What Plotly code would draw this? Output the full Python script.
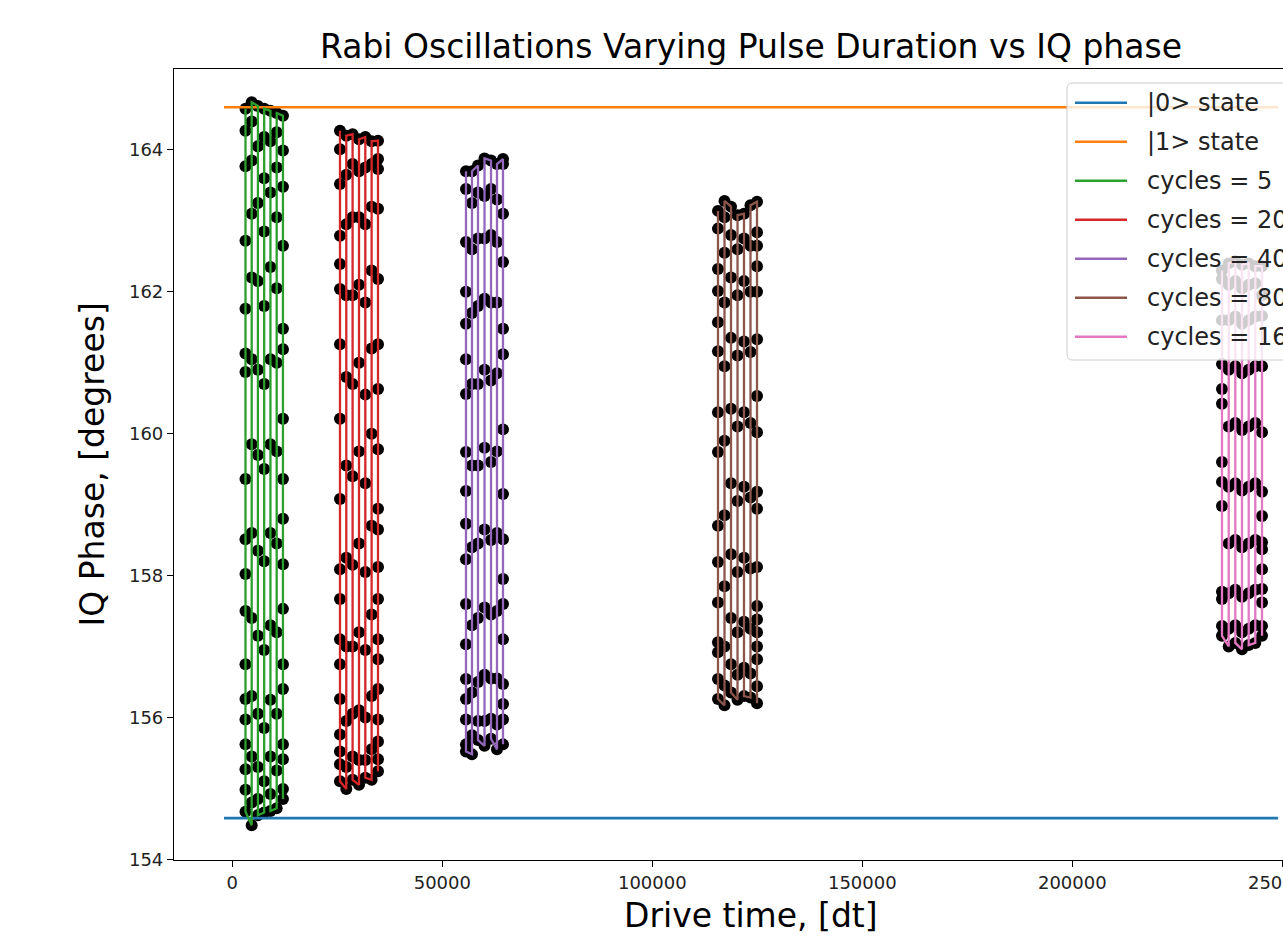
import plotly.graph_objects as go

# ---------------- data ----------------
state0_phase = 154.58
state1_phase = 164.60
state_line_x = [-1980, 249000]

cycle_labels = ["cycles = 5", "cycles = 20", "cycles = 40", "cycles = 80", "cycles = 160"]
cycle_colors = ["#2ca02c", "#d62728", "#9467bd", "#8c564b", "#e377c2"]

times_c5 = [3140, 4620, 6100, 7590, 9080, 10570, 12060]
phase_c5 = [
    [164.58, 164.27, 163.77, 162.72, 161.76, 161.13, 160.87, 159.36, 158.51, 158.02, 157.50, 156.75, 156.26, 155.97, 155.62, 155.27, 154.98, 154.67],
    [154.48, 154.80, 155.45, 156.30, 157.40, 158.60, 159.85, 161.05, 162.20, 163.10, 163.85, 164.40, 164.67],
    [164.62, 164.05, 163.25, 162.15, 160.90, 159.70, 158.35, 157.15, 156.05, 155.30, 154.85, 154.62],
    [154.66, 155.10, 155.85, 156.95, 158.20, 159.50, 160.70, 161.80, 162.85, 163.60, 164.18, 164.58],
    [164.55, 164.12, 163.40, 162.35, 161.05, 159.85, 158.60, 157.30, 156.25, 155.45, 154.92, 154.68],
    [154.72, 155.25, 156.05, 157.20, 158.45, 159.75, 161.00, 162.05, 163.05, 163.75, 164.25, 164.52],
    [164.48, 163.99, 163.48, 162.65, 161.48, 161.19, 160.21, 159.36, 158.80, 158.16, 157.53, 156.75, 156.40, 155.62, 155.41, 154.99, 154.85],
]

times_c20 = [25640, 27140, 28640, 30170, 31670, 33170, 34690]
phase_c20 = [
    [164.27, 164.01, 163.52, 162.79, 162.39, 162.04, 161.26, 160.21, 159.08, 158.09, 157.67, 157.10, 156.75, 156.26, 155.76, 155.52, 155.34, 155.10],
    [154.99, 155.30, 155.95, 157.00, 158.25, 159.55, 160.80, 161.95, 162.95, 163.65, 164.20],
    [164.22, 163.80, 163.05, 161.95, 160.70, 159.40, 158.15, 157.00, 156.05, 155.45, 155.12],
    [155.05, 155.40, 156.10, 157.20, 158.45, 159.75, 161.00, 162.10, 163.05, 163.70, 164.15],
    [164.18, 163.75, 162.95, 161.85, 160.55, 159.30, 158.05, 156.95, 156.00, 155.40, 155.15],
    [155.12, 155.55, 156.30, 157.45, 158.70, 160.00, 161.20, 162.30, 163.20, 163.80, 164.12],
    [164.13, 163.87, 163.73, 163.17, 162.18, 161.26, 160.63, 159.78, 158.94, 158.65, 158.12, 157.67, 157.10, 156.82, 156.40, 155.97, 155.66, 155.41, 155.24],
]

times_c40 = [55640, 57070, 58500, 60050, 61600, 63020, 64450]
phase_c40 = [
    [163.70, 163.45, 162.70, 162.00, 161.55, 161.05, 160.56, 159.74, 159.19, 158.73, 158.23, 157.60, 157.03, 156.54, 156.26, 155.97, 155.62, 155.52],
    [155.48, 155.75, 156.35, 157.30, 158.40, 159.55, 160.70, 161.70, 162.60, 163.25, 163.70],
    [163.78, 163.40, 162.75, 161.80, 160.70, 159.55, 158.45, 157.40, 156.50, 155.95, 155.68],
    [155.60, 155.95, 156.60, 157.55, 158.65, 159.80, 160.90, 161.90, 162.75, 163.35, 163.88],
    [163.85, 163.45, 162.80, 161.85, 160.75, 159.60, 158.50, 157.45, 156.55, 155.98, 155.70],
    [155.55, 155.90, 156.55, 157.50, 158.60, 159.75, 160.85, 161.85, 162.70, 163.30, 163.80],
    [163.87, 163.80, 163.10, 162.42, 161.48, 161.12, 160.06, 159.15, 158.51, 157.95, 157.60, 157.10, 156.47, 156.19, 155.97, 155.62],
]

times_c80 = [115640, 117190, 118740, 120290, 121830, 123380, 124930]
phase_c80 = [
    [163.14, 162.89, 162.32, 162.01, 161.57, 161.16, 160.30, 159.74, 158.70, 158.19, 157.62, 157.06, 156.92, 156.54, 156.26],
    [156.17, 156.45, 157.00, 157.85, 158.85, 159.90, 160.95, 161.85, 162.55, 163.05, 163.28],
    [163.20, 162.80, 162.20, 161.35, 160.35, 159.30, 158.30, 157.40, 156.75, 156.35],
    [156.25, 156.60, 157.20, 158.05, 159.05, 160.10, 161.10, 161.95, 162.60, 163.08],
    [163.10, 162.75, 162.15, 161.30, 160.30, 159.25, 158.25, 157.35, 156.70, 156.30],
    [156.28, 156.62, 157.25, 158.10, 159.10, 160.15, 161.15, 162.00, 162.65, 163.22],
    [163.27, 162.84, 162.65, 162.36, 162.00, 161.33, 160.53, 160.02, 159.18, 158.94, 158.12, 157.57, 157.38, 157.20, 157.00, 156.82, 156.44, 156.20],
]

times_c160 = [235640, 237240, 238810, 240400, 242000, 243570, 245170]
phase_c160 = [
    [162.30, 162.18, 161.60, 160.98, 160.63, 160.42, 159.60, 159.32, 158.98, 157.77, 157.67, 157.29, 157.15],
    [157.00, 157.25, 157.75, 158.45, 159.25, 160.10, 160.90, 161.60, 162.10, 162.40],
    [162.43, 162.15, 161.65, 160.95, 160.15, 159.30, 158.50, 157.80, 157.30, 157.05],
    [156.96, 157.20, 157.70, 158.40, 159.20, 160.05, 160.85, 161.55, 162.05, 162.38],
    [162.40, 162.10, 161.60, 160.90, 160.10, 159.25, 158.45, 157.75, 157.25, 157.02],
    [157.05, 157.30, 157.80, 158.50, 159.30, 160.15, 160.95, 161.65, 162.12, 162.36],
    [162.36, 161.95, 161.66, 160.95, 160.02, 159.18, 158.84, 158.47, 158.37, 158.09, 157.81, 157.62, 157.29, 157.15],
]

x_ticks = [0, 50000, 100000, 150000, 200000, 250000]
y_ticks = [154, 156, 158, 160, 162, 164]

groups = [(times_c5, phase_c5), (times_c20, phase_c20), (times_c40, phase_c40),
          (times_c80, phase_c80), (times_c160, phase_c160)]


def flatten(times, cols):
    xs, ys = [], []
    for t, col in zip(times, cols):
        xs += [t] * len(col)
        ys += col
    return xs, ys


# ---------------- layout geometry (pixels) ----------------
W, H = 1283, 936
L, R, T, B = 174, 0, 69, 76
PW, PH = W - L - R, H - T - B


def px(xp):
    return (xp - L) / PW


def py(yp):
    return (H - B - yp) / PH


FONT = "DejaVu Sans"

fig = go.Figure()

# black data points (drawn below lines)
for times, cols in groups:
    xs, ys = flatten(times, cols)
    fig.add_trace(go.Scatter(x=xs, y=ys, mode="markers",
                             marker=dict(color="black", size=12, line=dict(width=0)),
                             showlegend=False, hoverinfo="skip"))

# state reference lines
fig.add_trace(go.Scatter(x=state_line_x, y=[state0_phase, state0_phase], mode="lines",
                         line=dict(color="#1f77b4", width=2.6), name="|0> state"))
fig.add_trace(go.Scatter(x=state_line_x, y=[state1_phase, state1_phase], mode="lines",
                         line=dict(color="#ff7f0e", width=2.6), name="|1> state"))

# oscillation lines
for (times, cols), lab, col in zip(groups, cycle_labels, cycle_colors):
    xs, ys = flatten(times, cols)
    fig.add_trace(go.Scatter(x=xs, y=ys, mode="lines", line=dict(color=col, width=2.3),
                             name=lab))

# ---------------- manual legend (cut by the page edge like the reference) ----------------
legend_names = ["|0> state", "|1> state"] + cycle_labels
legend_colors = ["#1f77b4", "#ff7f0e"] + cycle_colors
bx0, bx1, by0, by1, rr = 1067, 1400, 83, 360, 6
box_path = (f"M {px(bx0 + rr)},{py(by0)} L {px(bx1)},{py(by0)} L {px(bx1)},{py(by1)} "
            f"L {px(bx0 + rr)},{py(by1)} Q {px(bx0)},{py(by1)} {px(bx0)},{py(by1 - rr)} "
            f"L {px(bx0)},{py(by0 + rr)} Q {px(bx0)},{py(by0)} {px(bx0 + rr)},{py(by0)} Z")
shapes = [dict(type="path", xref="paper", yref="paper", path=box_path,
               fillcolor="rgba(255,255,255,0.8)", line=dict(color="#cccccc", width=1),
               layer="above")]
annotations = []
row0, dy = 102.7, 39.0
for i, (nm, c) in enumerate(zip(legend_names, legend_colors)):
    yr = row0 + i * dy
    shapes.append(dict(type="line", xref="paper", yref="paper", x0=px(1075), x1=px(1127),
                       y0=py(yr), y1=py(yr), line=dict(color=c, width=2.6), layer="above"))
    annotations.append(dict(text=nm, xref="paper", yref="paper", x=px(1145), y=py(yr),
                            xanchor="left", yanchor="middle", showarrow=False,
                            font=dict(family=FONT, size=24, color="#222222")))

# axis titles
annotations.append(dict(text="Drive time, [dt]", xref="paper", yref="paper",
                        x=px(751), y=py(915), xanchor="center", yanchor="middle",
                        showarrow=False, font=dict(family=FONT, size=33, color="black")))
annotations.append(dict(text="IQ Phase, [degrees]", xref="paper", yref="paper",
                        x=px(92), y=0.5, xanchor="center", yanchor="middle", textangle=-90,
                        showarrow=False, font=dict(family=FONT, size=33, color="black")))

fig.update_layout(
    width=W, height=H,
    margin=dict(l=L, r=R, t=T, b=B, autoexpand=False),
    paper_bgcolor="white", plot_bgcolor="white",
    showlegend=False,
    title=dict(text="Rabi Oscillations Varying Pulse Duration vs IQ phase",
               x=751 / W, xref="container", xanchor="center",
               y=1 - 46 / H, yref="container", yanchor="middle",
               font=dict(family=FONT, size=33, color="black")),
    shapes=shapes,
    annotations=annotations,
    font=dict(family=FONT, color="black"),
)

fig.update_xaxes(range=[-13881, (W - R - 232.3) / 0.0042], tickvals=x_ticks,
                 ticktext=[str(v) for v in x_ticks], ticks="outside", ticklen=6,
                 tickwidth=1.2, tickcolor="black", showline=True, linecolor="black",
                 linewidth=1.2, mirror=True, showgrid=False, zeroline=False,
                 ticklabeloverflow="allow",
                 tickfont=dict(family=FONT, size=18, color="#222222"))
fig.update_yaxes(range=[153.99, 165.14], tickvals=y_ticks,
                 ticks="outside", ticklen=6, tickwidth=1.2, tickcolor="black",
                 showline=True, linecolor="black", linewidth=1.2, mirror=False,
                 showgrid=False, zeroline=False,
                 tickfont=dict(family=FONT, size=18, color="#222222"))

fig.write_html("out.html")
